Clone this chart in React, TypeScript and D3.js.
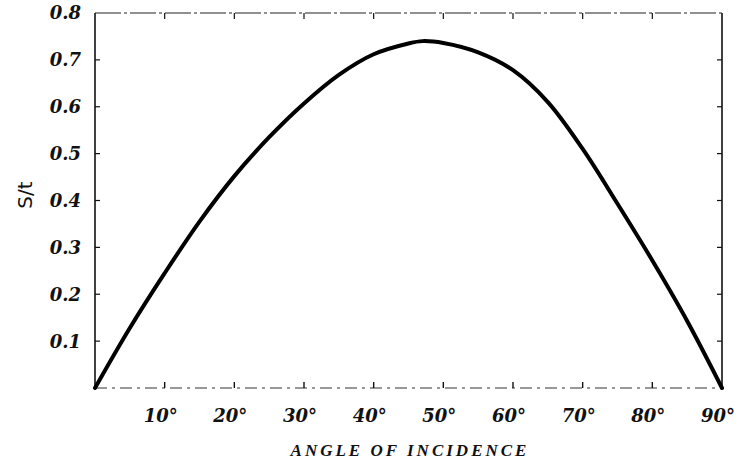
import React from "react";
import * as d3 from "d3";

// angle of incidence (degrees) and S/t
const angles = [0, 5, 10, 15, 20, 25, 30, 35, 40, 45, 47, 50, 55, 60, 65, 70, 75, 80, 85, 90];
const ratio = [0, 0.128, 0.245, 0.355, 0.452, 0.535, 0.607, 0.668, 0.712, 0.735, 0.74, 0.736, 0.716, 0.678, 0.61, 0.51, 0.393, 0.272, 0.143, 0];

const xTicks = [10, 20, 30, 40, 50, 60, 70, 80, 90];
const yTicks = [0.1, 0.2, 0.3, 0.4, 0.5, 0.6, 0.7, 0.8];

const width = 749;
const height = 463;
const margin = { top: 13, right: 27, bottom: 75, left: 95 };

const App = () => {
  const x = d3
    .scaleLinear()
    .domain([0, 90])
    .range([margin.left, width - margin.right]);
  const y = d3
    .scaleLinear()
    .domain([0, 0.8])
    .range([height - margin.bottom, margin.top]);

  const line = d3
    .line<number>()
    .x((d, i) => x(angles[i]))
    .y((d) => y(d))
    .curve(d3.curveCatmullRom.alpha(0.5));

  const x0 = x(0);
  const x1 = x(90);
  const y0 = y(0);
  const y1 = y(0.8);
  const serif = "'Liberation Serif', 'DejaVu Serif', serif";
  const wide = "'DejaVu Serif', serif";

  return (
    <svg width={width} height={height} style={{ position: "absolute", left: 0, top: 0, background: "#fff" }}>
      {/* frame */}
      <line x1={x0} x2={x0} y1={y1} y2={y0} stroke="#111" strokeWidth={1.6} />
      <line x1={x1} x2={x1} y1={y1} y2={y0} stroke="#111" strokeWidth={1.6} />
      <line x1={x0} x2={x1} y1={y1} y2={y1} stroke="#222" strokeWidth={1.1} strokeDasharray="26 3 3 3" />
      <line x1={x0} x2={x1} y1={y0} y2={y0} stroke="#333" strokeWidth={1.1} strokeDasharray="12 5 3 5" />

      {/* ticks */}
      {yTicks.slice(0, -1).map((t) => (
        <g key={"y" + t}>
          <line x1={x0} x2={x0 + 5} y1={y(t)} y2={y(t)} stroke="#111" strokeWidth={1.2} />
          <line x1={x1} x2={x1 - 5} y1={y(t)} y2={y(t)} stroke="#111" strokeWidth={1.2} />
        </g>
      ))}
      {xTicks.slice(0, -1).map((t) => (
        <g key={"x" + t}>
          <line x1={x(t)} x2={x(t)} y1={y0} y2={y0 - 6} stroke="#111" strokeWidth={1.4} />
          <line x1={x(t)} x2={x(t)} y1={y1} y2={y1 + 6} stroke="#111" strokeWidth={1.2} />
        </g>
      ))}

      {/* tick labels */}
      {yTicks.map((t) => (
        <text
          key={"yl" + t}
          x={x0 - 14}
          y={y(t)}
          dy="0.36em"
          textAnchor="end"
          fontFamily={wide}
          fontStyle="italic"
          fontWeight="bold"
          fontSize={18}
          fill="#111"
        >
          {t.toFixed(1)}
        </text>
      ))}
      {xTicks.map((t) => (
        <text
          key={"xl" + t}
          x={x(t) - 4}
          y={y0 + 34}
          textAnchor="middle"
          fontFamily={wide}
          fontStyle="italic"
          fontWeight="bold"
          fontSize={18}
          fill="#111"
        >
          {t + "°"}
        </text>
      ))}

      {/* axis titles */}
      <text
        x={410}
        y={456}
        textAnchor="middle"
        fontFamily={serif}
        fontStyle="italic"
        fontWeight="bold"
        fontSize={17}
        letterSpacing={3}
        fill="#111"
      >
        ANGLE OF INCIDENCE
      </text>
      <text
        transform="translate(32,195) rotate(-90)"
        textAnchor="middle"
        fontFamily="'DejaVu Sans', sans-serif"
        fontSize={20}
        fill="#111"
      >
        S/t
      </text>

      {/* curve */}
      <path d={line(ratio) || ""} fill="none" stroke="#000" strokeWidth={4} strokeLinecap="round" />
    </svg>
  );
};

export default App;
